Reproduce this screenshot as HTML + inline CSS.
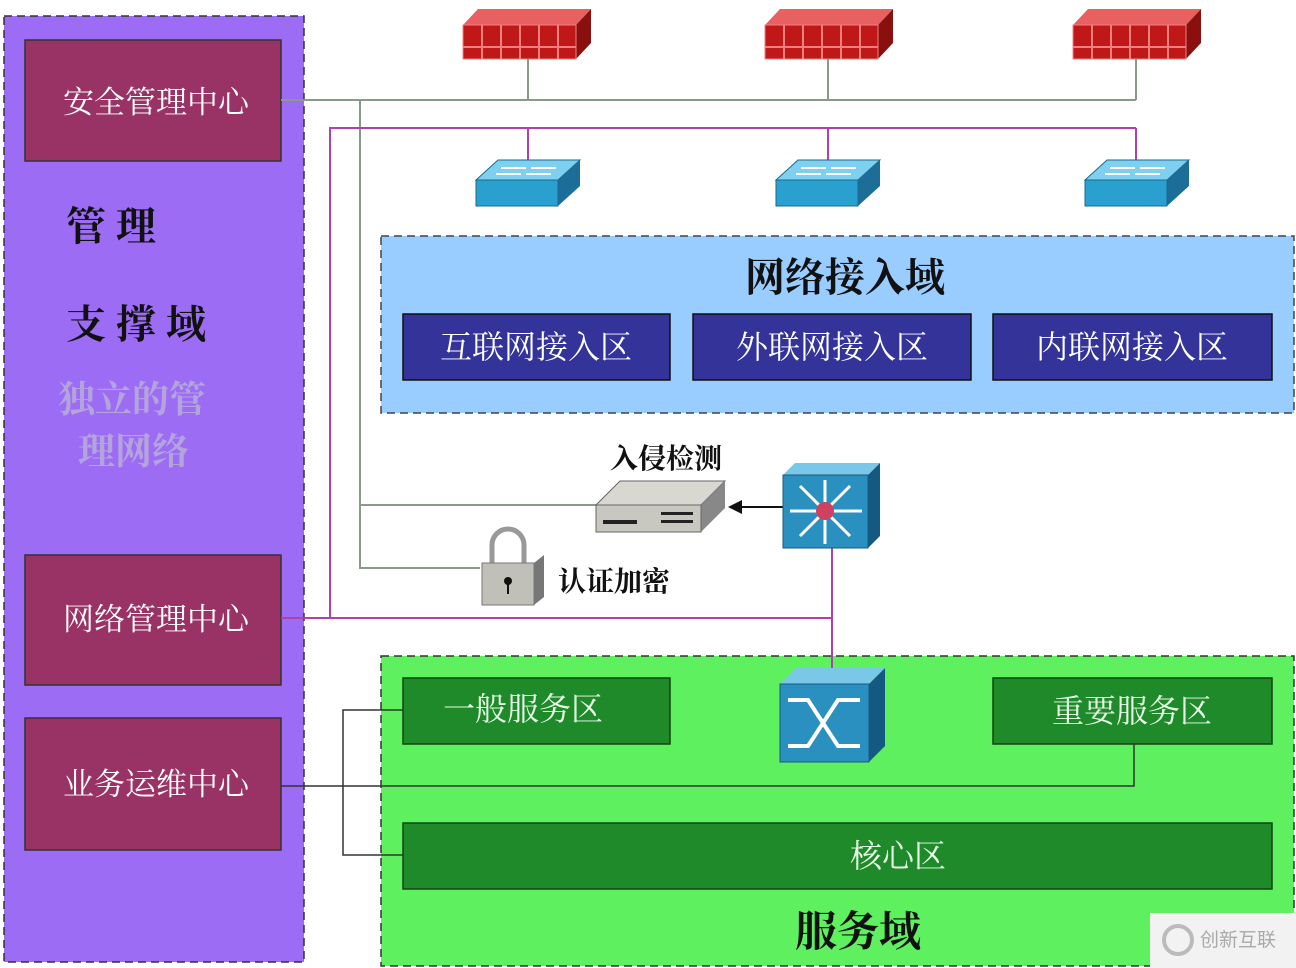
<!DOCTYPE html>
<html><head><meta charset="utf-8"><style>
body{margin:0;background:#fff;}
svg{display:block;font-family:"Liberation Serif","Noto Serif CJK SC","Noto Sans CJK SC",serif;}
</style></head><body>
<svg width="1296" height="968" viewBox="0 0 1296 968" xmlns="http://www.w3.org/2000/svg">
<defs>
<g id="fw">
<polygon points="0,22 15,6 128,6 113,22" fill="#e86060"/>
<polygon points="113,22 128,6 128,40 113,56" fill="#8a1010"/>
<rect x="0" y="22" width="113" height="34" fill="#c01818" stroke="#f08080" stroke-width="1"/>
<g stroke="#f08080" stroke-width="2"><line x1="19" y1="22" x2="19" y2="56"/><line x1="38" y1="22" x2="38" y2="56"/><line x1="57" y1="22" x2="57" y2="56"/><line x1="76" y1="22" x2="76" y2="56"/><line x1="95" y1="22" x2="95" y2="56"/><line x1="0" y1="44" x2="113" y2="44"/></g>
</g>
<g id="sw">
<polygon points="0,20 22,0 104,0 82,20" fill="#7fd0f0" stroke="#1a6a90"/>
<polygon points="82,20 104,0 104,26 82,46" fill="#1c6e98"/>
<rect x="0" y="20" width="82" height="26" fill="#2aa0d0" stroke="#1a6a90"/>
<g stroke="#fff" stroke-width="2"><line x1="25" y1="8" x2="50" y2="8"/><line x1="55" y1="8" x2="80" y2="8"/><line x1="20" y1="14" x2="45" y2="14"/><line x1="50" y1="14" x2="75" y2="14"/></g>
</g>
</defs>
<rect x="4" y="16" width="300" height="946" fill="#9d6cf5" stroke="#333" stroke-width="1.5" stroke-dasharray="8,5"/>
<g fill="#993366" stroke="#333" stroke-width="1.5">
<rect x="25" y="40" width="256" height="121"/>
<rect x="25" y="555" width="256" height="130"/>
<rect x="25" y="718" width="256" height="132"/>
</g>
<g fill="#fff" font-size="31" text-anchor="middle">
<text x="156" y="113">安全管理中心</text>
<text x="156" y="630">网络管理中心</text>
<text x="156" y="795">业务运维中心</text>
</g>
<g font-size="40" font-weight="bold" fill="#111">
<text x="66" y="240">管 理</text>
<text x="66" y="338">支 撑 域</text>
</g>
<g font-size="37" font-weight="bold" fill="#b4a4dc">
<text x="58" y="412">独立的管</text>
<text x="78" y="464">理网络</text>
</g>
<rect x="381" y="236" width="913" height="177" fill="#99ccff" stroke="#444" stroke-width="1.5" stroke-dasharray="8,5"/>
<text x="845" y="291" font-size="40" font-weight="bold" text-anchor="middle" fill="#111">网络接入域</text>
<g fill="#333399" stroke="#111" stroke-width="1.5">
<rect x="403" y="314" width="267" height="66"/>
<rect x="693" y="314" width="278" height="66"/>
<rect x="993" y="314" width="279" height="66"/>
</g>
<g fill="#fff" font-size="32" text-anchor="middle">
<text x="536" y="358">互联网接入区</text>
<text x="832" y="358">外联网接入区</text>
<text x="1132" y="358">内联网接入区</text>
</g>
<rect x="381" y="656" width="913" height="310" fill="#5ef05e" stroke="#333" stroke-width="1.5" stroke-dasharray="8,5"/>
<g fill="#1f8a2a" stroke="#114411" stroke-width="1.5">
<rect x="403" y="678" width="267" height="66"/>
<rect x="993" y="678" width="279" height="66"/>
<rect x="403" y="823" width="869" height="66"/>
</g>
<g fill="#e8ffe8" font-size="32" text-anchor="middle">
<text x="523" y="720">一般服务区</text>
<text x="1132" y="722">重要服务区</text>
<text x="898" y="867">核心区</text>
</g>
<text x="858" y="946" font-size="42" font-weight="bold" text-anchor="middle" fill="#111">服务域</text>
<g stroke="#8a9a8a" stroke-width="2" fill="none">
<polyline points="281,100 1136,100"/>
<line x1="528" y1="56" x2="528" y2="100"/><line x1="828" y1="56" x2="828" y2="100"/><line x1="1136" y1="56" x2="1136" y2="100"/>
<polyline points="360,100 360,568 480,568"/>
<line x1="360" y1="505" x2="596" y2="505"/>
</g>
<g stroke="#b040b0" stroke-width="2" fill="none">
<polyline points="330,618 330,128 1136,128"/>
<line x1="528" y1="128" x2="528" y2="160"/><line x1="828" y1="128" x2="828" y2="160"/><line x1="1136" y1="128" x2="1136" y2="160"/>
<polyline points="281,618 832,618"/>
<line x1="832" y1="548" x2="832" y2="680"/>
</g>
<g stroke="#333" stroke-width="1.5" fill="none">
<polyline points="281,786 1134,786 1134,744"/>
<polyline points="403,710 343,710 343,855 403,855"/>
</g>
<use href="#fw" x="463" y="3"/>
<use href="#fw" x="765" y="3"/>
<use href="#fw" x="1073" y="3"/>
<use href="#sw" x="476" y="160"/>
<use href="#sw" x="776" y="160"/>
<use href="#sw" x="1085" y="160"/>
<polygon points="596,505 620,481 725,481 701,505" fill="#d8d8d0" stroke="#666"/>
<polygon points="701,505 725,481 725,508 701,532" fill="#888"/>
<rect x="596" y="505" width="105" height="27" fill="#c8c8c0" stroke="#666"/>
<rect x="603" y="520" width="34" height="4" fill="#222"/>
<rect x="661" y="512" width="32" height="3" fill="#222"/><rect x="661" y="520" width="32" height="3" fill="#222"/>
<text x="666" y="468" font-size="28" font-weight="bold" text-anchor="middle" fill="#111">入侵检测</text>
<line x1="783" y1="507" x2="740" y2="507" stroke="#111" stroke-width="2"/>
<polygon points="728,507 742,500 742,514" fill="#111"/>
<polygon points="783,475 795,463 880,463 868,475" fill="#7ac8e8"/>
<polygon points="868,475 880,463 880,536 868,548" fill="#145a80"/>
<rect x="783" y="475" width="85" height="73" fill="#2a90c0" stroke="#1a5a80"/>
<g stroke="#fff" stroke-width="3"><line x1="790" y1="511" x2="862" y2="511"/><line x1="825" y1="480" x2="825" y2="544"/><line x1="800" y1="486" x2="850" y2="536"/><line x1="850" y1="486" x2="800" y2="536"/></g>
<circle cx="825" cy="511" r="9" fill="#d04060"/>
<path d="M492,563 v-18 a16,16 0 0 1 32,0 v18" fill="none" stroke="#999" stroke-width="5"/>
<polygon points="534,563 544,555 544,597 534,605" fill="#777"/>
<rect x="482" y="563" width="52" height="42" fill="#c0c0b8" stroke="#777"/>
<circle cx="508" cy="581" r="4" fill="#111"/><rect x="507" y="581" width="2" height="13" fill="#111"/>
<text x="558" y="591" font-size="28" font-weight="bold" fill="#111">认证加密</text>
<polygon points="780,684 796,668 885,668 869,684" fill="#7ac8e8"/>
<polygon points="869,684 885,668 885,746 869,762" fill="#145a80"/>
<rect x="780" y="684" width="89" height="78" fill="#2a90c0" stroke="#1a5a80"/>
<g stroke="#fff" stroke-width="4" fill="none"><path d="M788,700 h20 l30,46 h22"/><path d="M788,746 h20 l30,-46 h22"/></g>
<rect x="1150" y="913" width="146" height="55" fill="#f2f2f2"/>
<circle cx="1178" cy="940" r="14" fill="none" stroke="#bbb" stroke-width="4"/>
<text x="1200" y="946" font-size="19" fill="#aaa" font-family="Liberation Sans,Noto Sans CJK SC,sans-serif">创新互联</text>
</svg>
</body></html>
